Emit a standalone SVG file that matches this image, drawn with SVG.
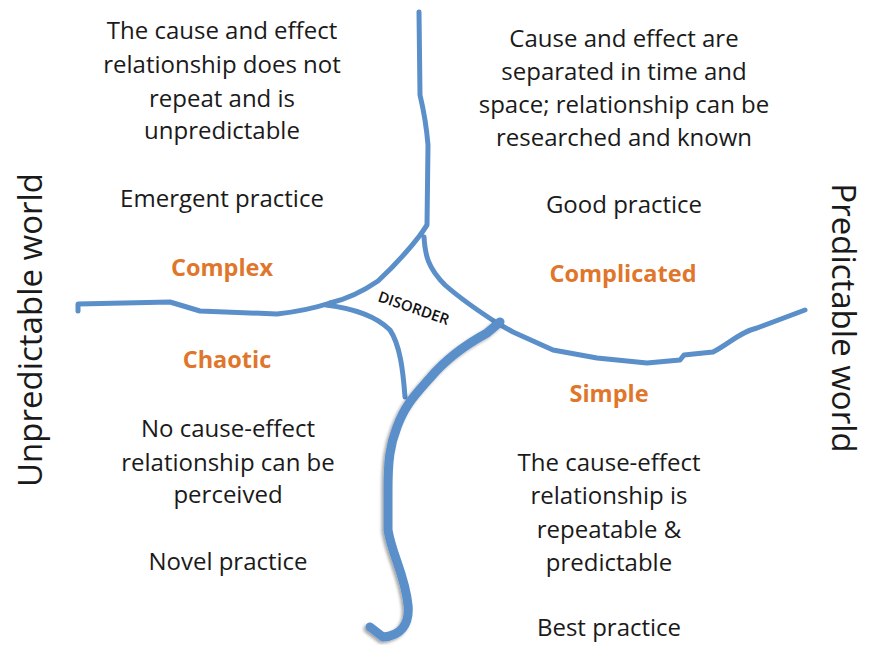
<svg xmlns="http://www.w3.org/2000/svg" width="872" height="645" viewBox="0 0 872 645">
<defs>
<style>
.t{font-family:"Open Sans","Liberation Sans",sans-serif;font-size:24px;fill:#1a1a1a;text-anchor:middle}
.d{font-family:"Open Sans","Liberation Sans",sans-serif;font-size:23.5px;font-weight:bold;fill:#e0762b;text-anchor:middle}
.w{font-family:"Open Sans","Liberation Sans",sans-serif;font-size:33px;fill:#1a1a1a;text-anchor:middle}
.ln{fill:none;stroke:#5a8fc9;stroke-width:5;stroke-linecap:round;stroke-linejoin:round}
.thick{fill:none;stroke:#5a8fc9;stroke-width:9;stroke-linecap:round;stroke-linejoin:round}
</style>
<filter id="sh" x="-10%" y="-10%" width="130%" height="130%"><feDropShadow dx="-2" dy="2" stdDeviation="1.5" flood-color="#000" flood-opacity="0.35"/></filter>
</defs>
<rect width="872" height="645" fill="#fff"/>
<g id="connectors">
<path class="ln" d="M419,12 L420,95 Q426,120 428,145 L427,225 L421,234"/>
<path class="ln" d="M421,234 C405,255 392,268 378,281 C362,292 347,299 330,303"/>
<path class="ln" d="M78,311 L78,304 L170,302 L200,311 L277,314 C295,312 315,308 330,303"/>
<path class="ln" d="M326,305 C350,308 375,315 390,330 C400,345 403,370 405,397"/>
<path class="ln" d="M424,237 C425,255 428,268 445,285 C462,300 480,312 497,323"/>
<path class="ln" d="M497,323 L513,332 L553,350 L597,358 L647,363 L680,360 L684,355 L713,352 C730,343 740,332 757,328 L805,310"/>
<path class="thick" filter="url(#sh)" d="M500,322 L487,333 C465,345 445,360 430,378 C415,395 405,405 397,427 C390,445 388,460 388,490 L388,530 C392,555 405,575 408,605 C410,625 400,636 383,637 L370,627"/>
</g>
<g id="complex">
<text class="t" x="222" y="39">The cause and effect</text>
<text class="t" x="222" y="73">relationship does not</text>
<text class="t" x="222" y="107">repeat and is</text>
<text class="t" x="222" y="139">unpredictable</text>
<text class="t" x="222" y="207">Emergent practice</text>
<text class="d" x="222" y="276">Complex</text>
</g>
<g id="complicated">
<text class="t" x="624" y="47">Cause and effect are</text>
<text class="t" x="624" y="80">separated in time and</text>
<text class="t" x="624" y="113">space; relationship can be</text>
<text class="t" x="624" y="146">researched and known</text>
<text class="t" x="624" y="213">Good practice</text>
<text class="d" x="623" y="282">Complicated</text>
</g>
<g id="chaotic">
<text class="d" x="227" y="368">Chaotic</text>
<text class="t" x="228" y="437">No cause-effect</text>
<text class="t" x="228" y="471">relationship can be</text>
<text class="t" x="228" y="503">perceived</text>
<text class="t" x="228" y="570">Novel practice</text>
</g>
<g id="simple">
<text class="d" x="609" y="402">Simple</text>
<text class="t" x="609" y="471">The cause-effect</text>
<text class="t" x="609" y="504">relationship is</text>
<text class="t" x="609" y="538">repeatable &amp;</text>
<text class="t" x="609" y="571">predictable</text>
<text class="t" x="609" y="636">Best practice</text>
</g>
<g id="disorder">
<text x="0" y="0" transform="translate(412,313) rotate(19)" font-family="Open Sans, Liberation Sans, sans-serif" font-size="15" font-weight="600" fill="#111" text-anchor="middle">DISORDER</text>
</g>
<g id="unpredictable-world">
<text class="w" transform="translate(42,330) rotate(-90)">Unpredictable world</text>
</g>
<g id="predictable-world">
<text class="w" transform="translate(832,318) rotate(90)">Predictable world</text>
</g>
</svg>
